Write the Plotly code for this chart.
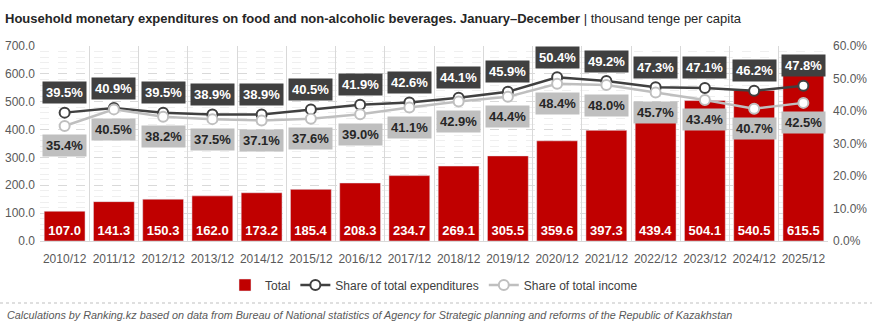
import plotly.graph_objects as go

periods = ["2010/12", "2011/12", "2012/12", "2013/12", "2014/12", "2015/12", "2016/12", "2017/12",
           "2018/12", "2019/12", "2020/12", "2021/12", "2022/12", "2023/12", "2024/12", "2025/12"]
total = [107.0, 141.3, 150.3, 162.0, 173.2, 185.4, 208.3, 234.7, 269.1, 305.5, 359.6, 397.3,
         439.4, 504.1, 540.5, 615.5]
share_exp = [39.5, 40.9, 39.5, 38.9, 38.9, 40.5, 41.9, 42.6, 44.1, 45.9, 50.4, 49.2, 47.3, 47.1, 46.2, 47.8]
share_inc = [35.4, 40.5, 38.2, 37.5, 37.1, 37.6, 39.0, 41.1, 42.9, 44.4, 48.4, 48.0, 45.7, 43.4, 40.7, 42.5]

W, H = 872, 331
L, R, T, B = 40, 44, 46, 90
PH = H - T - B
PW = W - L - R

FONT = "Liberation Sans Narrow, Arial Narrow, Liberation Sans, Arial, sans-serif"

fig = go.Figure()
fig.add_trace(go.Bar(
    x=periods, y=total, name="Total", marker_color="#c00000", width=0.83,
    texttemplate="%{y:.1f}", textposition="inside", insidetextanchor="start", textangle=0,
    textfont=dict(color="white", size=13, family=FONT, weight="bold"),
    cliponaxis=False,
))
fig.add_trace(go.Scatter(
    x=periods, y=share_exp, yaxis="y2", name="Share of total expenditures", mode="lines+markers",
    line=dict(color="#404040", width=2.5),
    marker=dict(size=10, color="white", line=dict(color="#404040", width=2)),
))
fig.add_trace(go.Scatter(
    x=periods, y=share_inc, yaxis="y2", name="Share of total income", mode="lines+markers",
    line=dict(color="#bfbfbf", width=2.5),
    marker=dict(size=10, color="white", line=dict(color="#bfbfbf", width=2)),
))

annotations = []
for p, v in zip(periods, share_exp):
    annotations.append(dict(x=p, y=v, xref="x", yref="y2", text=f"<b>{v:.1f}%</b>", showarrow=False,
                            yshift=20, bgcolor="#404040", borderpad=3,
                            font=dict(color="white", size=13, family=FONT)))
for p, v in zip(periods, share_inc):
    annotations.append(dict(x=p, y=v, xref="x", yref="y2", text=f"<b>{v:.1f}%</b>", showarrow=False,
                            yshift=-20, bgcolor="#bfbfbf", borderpad=3,
                            font=dict(color="#262626", size=13, family=FONT)))

annotations.append(dict(
    xref="paper", yref="paper", x=(5 - L) / PW, y=-(315 - (T + PH)) / PH, xanchor="left", yanchor="middle",
    text="<i>Calculations by Ranking.kz based on data from Bureau of National statistics of Agency for Strategic planning and reforms of the Republic of Kazakhstan</i>",
    showarrow=False, font=dict(color="#595959", size=10.8, family=FONT)))

fig.update_layout(
    width=W, height=H, margin=dict(l=L, r=R, t=T, b=B, autoexpand=False),
    paper_bgcolor="white", plot_bgcolor="white",
    font=dict(family=FONT, color="#595959", size=12),
    title=dict(text="<b>Household monetary expenditures on food and non-alcoholic beverages. January–December</b> | thousand tenge per capita",
               x=5 / W, xanchor="left", y=1 - 18 / H, yanchor="middle",
               font=dict(size=13, color="#262626", family=FONT)),
    bargap=0.17,
    xaxis=dict(type="category", range=[-0.5, len(periods) - 0.5], tickson="boundaries", showgrid=True,
               gridcolor="#d9d9d9", gridwidth=1, ticklabelstandoff=7,
               ticks="", tickangle=0, showline=True, linecolor="#d9d9d9", automargin=False,
               tickfont=dict(size=12, color="#595959"), fixedrange=True),
    yaxis=dict(range=[0, 700], dtick=100, tickformat=".1f", showgrid=True, gridcolor="#d9d9d9",
               griddash="dash", zeroline=False, automargin=False, ticklabelstandoff=4,
               tickfont=dict(size=12, color="#595959"),
               minor=dict(dtick=20, showgrid=True, gridcolor="#efefef", gridwidth=1)),
    yaxis2=dict(range=[0, 60], dtick=10, tickformat=".1f", ticksuffix="%", overlaying="y", side="right",
                showgrid=False, zeroline=False, automargin=False, ticklabelstandoff=4,
                tickfont=dict(size=12, color="#595959")),
    legend=dict(orientation="h", x=0.5, xanchor="center", y=-(285 - (T + PH)) / PH, yanchor="middle",
                font=dict(size=12, color="#404040"), traceorder="normal", itemwidth=30),
    annotations=annotations,
    shapes=[dict(type="line", xref="paper", yref="paper", x0=-L / PW, x1=(W - L) / PW,
                 y0=-(303 - (T + PH)) / PH, y1=-(303 - (T + PH)) / PH,
                 line=dict(color="#bfbfbf", width=1, dash="dot"))],
)

fig.write_html("out.html")
